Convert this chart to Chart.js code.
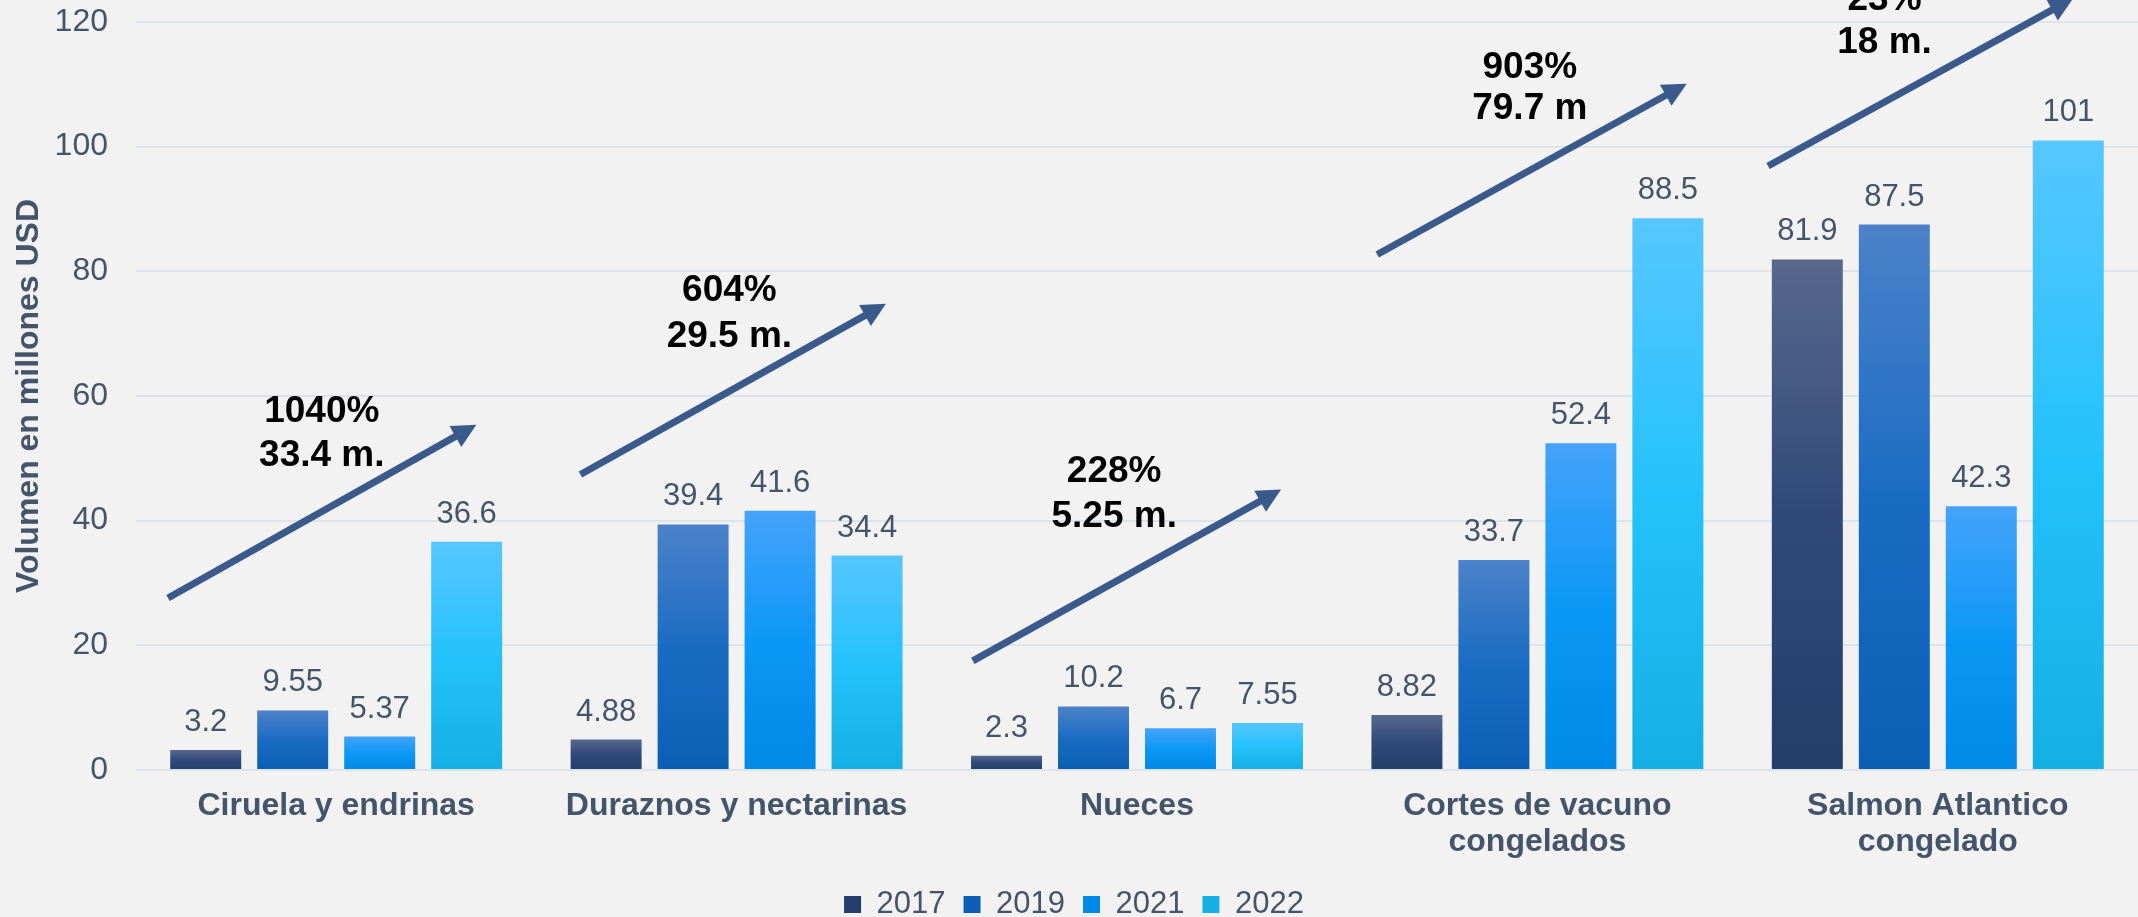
<!DOCTYPE html>
<html>
<head>
<meta charset="utf-8">
<script src="https://cdn.jsdelivr.net/npm/chart.js@4.4.1/dist/chart.umd.min.js"></script>
<style>
  html, body { margin: 0; padding: 0; background: #f2f2f2; overflow: hidden; }
  #wrap { width: 2138px; height: 917px; }
</style>
</head>
<body>
<div id="wrap"><canvas id="chart"></canvas></div>
<script>
// categories and series
const categories = [
    ["Ciruela y endrinas"],
    ["Duraznos y nectarinas"],
    ["Nueces"],
    ["Cortes de vacuno", "congelados"],
    ["Salmon Atlantico", "congelado"]
];
const years = ["2017", "2019", "2021", "2022"];
const v2017 = [3.2, 4.88, 2.3, 8.82, 81.9];
const v2019 = [9.55, 39.4, 10.2, 33.7, 87.5];
const v2021 = [5.37, 41.6, 6.7, 52.4, 42.3];
const v2022 = [36.6, 34.4, 7.55, 88.5, 101];
const yMin = 0, yMax = 120, yStep = 20;

// growth notes written over each group
const growthPct = ["1040%", "604%", "228%", "903%", "23%"];
const growthAmount = ["33.4 m.", "29.5 m.", "5.25 m.", "79.7 m", "18 m."];

// arrow geometry in data units: [start offset, start value, end offset, end value]
// offsets are fractions of a category width from the category centre
const arrowGeom = [
    [-0.42, 27.6, 0.35, 55.4],
    [-0.39, 47.4, 0.373, 74.8],
    [-0.41, 17.5, 0.36, 45.0],
    [-0.40, 82.7, 0.373, 110.1],
    [-0.424, 96.9, 0.338, 123.8]
];
// note text anchors: [offset, value line 1, value line 2]
const noteGeom = [
    [-0.036, 57.4, 50.4],
    [-0.018, 76.8, 69.5],
    [-0.057, 47.8, 40.6],
    [-0.019, 112.7, 106.0],
    [-0.133, 123.5, 116.7]
];

const FONT = '"Liberation Sans", Arial, sans-serif';
const TEXT = "#44546a";

const gradients = [
    ["#57688c", "#30497a", "#233e6b"],
    ["#4c82c9", "#1a6cc3", "#0a5fb4"],
    ["#45a3fa", "#0c98f6", "#0089e6"],
    ["#57c7ff", "#24c2fc", "#14b0e4"]
];

function barFill(stops) {
    return (c) => {
        const chart = c.chart;
        if (c.type !== "data" || !chart.chartArea) return stops[1];
        const y = chart.scales.y;
        const top = y.getPixelForValue(c.raw);
        const base = y.getPixelForValue(0);
        if (!isFinite(top) || top === base) return stops[1];
        const g = chart.ctx.createLinearGradient(0, top, 0, base);
        g.addColorStop(0, stops[0]);
        g.addColorStop(0.5, stops[1]);
        g.addColorStop(1, stops[2]);
        return g;
    };
}

const barLabels = {
    id: "barLabels",
    afterDatasetsDraw(chart) {
        const ctx = chart.ctx;
        ctx.save();
        ctx.font = "31px " + FONT;
        ctx.fillStyle = TEXT;
        ctx.textAlign = "center";
        ctx.textBaseline = "alphabetic";
        chart.data.datasets.forEach((ds, i) => {
            chart.getDatasetMeta(i).data.forEach((bar, j) => {
                ctx.fillText(String(ds.data[j]), bar.x, bar.y - 19);
            });
        });
        ctx.restore();
    }
};

const growthNotes = {
    id: "growthNotes",
    afterDatasetsDraw(chart) {
        const ctx = chart.ctx;
        const xs = chart.scales.x, ys = chart.scales.y;
        const catW = xs.getPixelForValue(1) - xs.getPixelForValue(0);
        ctx.save();
        ctx.strokeStyle = "#3b5a8c";
        ctx.fillStyle = "#3b5a8c";
        ctx.lineWidth = 7;
        arrowGeom.forEach((a, i) => {
            const cx = xs.getPixelForValue(i);
            const x0 = cx + a[0] * catW, y0 = ys.getPixelForValue(a[1]);
            const x1 = cx + a[2] * catW, y1 = ys.getPixelForValue(a[3]);
            const len = Math.hypot(x1 - x0, y1 - y0);
            const ux = (x1 - x0) / len, uy = (y1 - y0) / len;
            const head = 24, half = 12;
            ctx.beginPath();
            ctx.moveTo(x0, y0);
            ctx.lineTo(x1 - ux * head * 0.8, y1 - uy * head * 0.8);
            ctx.stroke();
            ctx.beginPath();
            ctx.moveTo(x1, y1);
            ctx.lineTo(x1 - ux * head - uy * half, y1 - uy * head + ux * half);
            ctx.lineTo(x1 - ux * head + uy * half, y1 - uy * head - ux * half);
            ctx.closePath();
            ctx.fill();
        });
        ctx.fillStyle = "#000000";
        ctx.font = "bold 37px " + FONT;
        ctx.textAlign = "center";
        ctx.textBaseline = "middle";
        noteGeom.forEach((n, i) => {
            const x = xs.getPixelForValue(i) + n[0] * catW;
            ctx.fillText(growthPct[i], x, ys.getPixelForValue(n[1]));
            ctx.fillText(growthAmount[i], x, ys.getPixelForValue(n[2]));
        });
        ctx.restore();
    }
};

const series = [v2017, v2019, v2021, v2022];

new Chart(document.getElementById("chart"), {
    type: "bar",
    data: {
        labels: categories,
        datasets: years.map((yr, i) => ({
            label: yr,
            data: series[i],
            backgroundColor: barFill(gradients[i]),
            borderWidth: 0,
            categoryPercentage: 0.869,
            barPercentage: 0.816
        }))
    },
    options: {
        responsive: true,
        maintainAspectRatio: false,
        animation: false,
        layout: { padding: { left: 10, right: 0, top: 22, bottom: -13 } },
        plugins: {
            tooltip: { enabled: false },
            legend: {
                position: "bottom",
                labels: {
                    boxWidth: 17,
                    boxHeight: 17,
                    padding: 18,
                    color: TEXT,
                    font: { family: FONT, size: 31 }
                }
            }
        },
        scales: {
            x: {
                grid: { display: false, drawTicks: false },
                border: { display: false },
                afterFit: (s) => { s.height = 101; },
                ticks: {
                    color: TEXT,
                    padding: 18,
                    maxRotation: 0,
                    font: { family: FONT, size: 32, weight: "bold", lineHeight: 1.125 }
                }
            },
            y: {
                min: yMin,
                max: yMax,
                grid: { color: "#dde3ea", lineWidth: 2, drawTicks: false },
                border: { display: false },
                afterFit: (s) => { s.width = 126; s.paddingTop = 0; s.paddingBottom = 0; },
                ticks: {
                    stepSize: yStep,
                    color: TEXT,
                    padding: 28,
                    font: { family: FONT, size: 32 }
                },
                title: {
                    display: true,
                    text: "Volumen en millones USD",
                    color: TEXT,
                    padding: { top: 0, bottom: 4 },
                    font: { family: FONT, size: 32, weight: "bold" }
                }
            }
        }
    },
    plugins: [barLabels, growthNotes]
});
</script>
</body>
</html>
